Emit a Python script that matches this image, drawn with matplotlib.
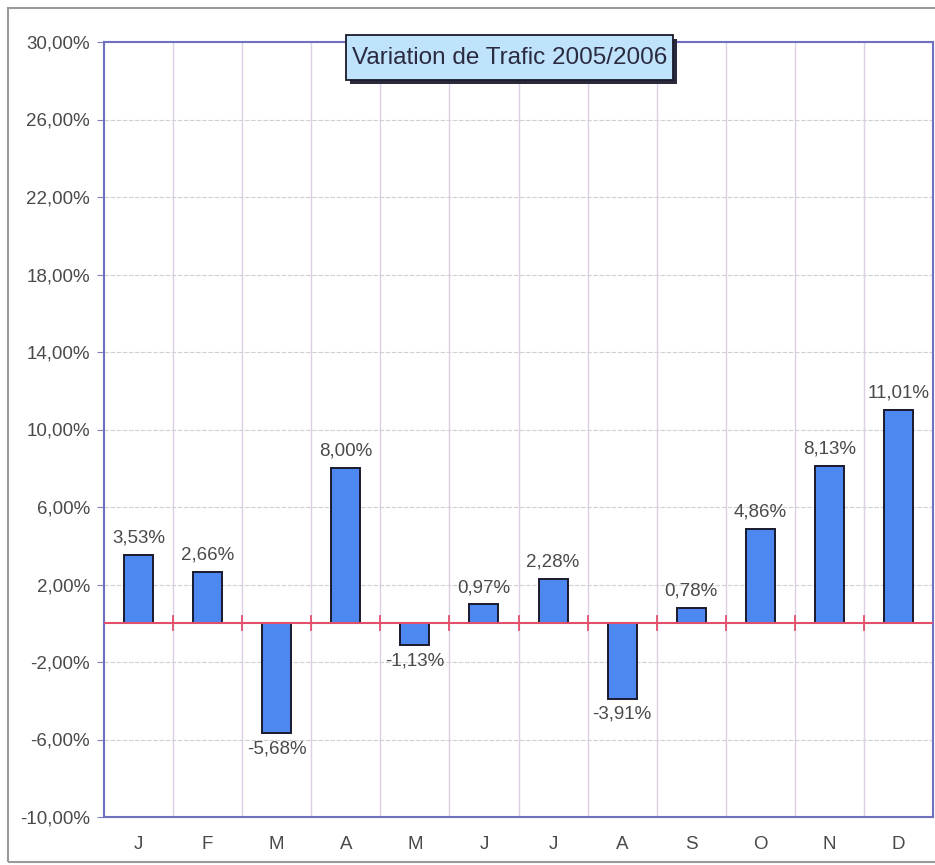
import matplotlib
matplotlib.use("Agg")
import matplotlib.pyplot as plt
from matplotlib.patches import Rectangle

months = ["J", "F", "M", "A", "M", "J", "J", "A", "S", "O", "N", "D"]
values = [3.53, 2.66, -5.68, 8.00, -1.13, 0.97, 2.28, -3.91, 0.78, 4.86, 8.13, 11.01]
yticks = [-10, -6, -2, 2, 6, 10, 14, 18, 22, 26, 30]
title = "Variation de Trafic 2005/2006"

plt.rcParams['font.family'] = ['Liberation Sans', 'DejaVu Sans']
W, H = 935, 865
fig = plt.figure(figsize=(W/100, H/100), dpi=100)
fig.patch.set_facecolor('white')

# outer frame
fig.patches.append(Rectangle((8/W, 3/H), 1.2, (H-11)/H, transform=fig.transFigure,
                             fill=False, edgecolor='#9a9a9a', linewidth=1.5))

ax = fig.add_axes([104/W, 1-817/H, (933-104)/W, (817-42)/H])
n = len(months)
x = list(range(n))
ax.set_xlim(-0.5, n-0.5)
ax.set_ylim(-10, 30)

# grids
for b in [i + 0.5 for i in range(n-1)]:
    ax.axvline(b, color='#ddd0e6', linewidth=1.0, zorder=0)
for t in yticks:
    ax.axhline(t, color='#d0d0d0', linewidth=0.8, linestyle=(0, (4, 1.5)), zorder=0)

ax.bar(x, values, width=0.42, color='#4d88f0', edgecolor='#1a1a2e', linewidth=1.4, zorder=3)

# zero line with ticks
ax.axhline(0, color='#e0506a', linewidth=1.5, zorder=4)
for b in [i + 0.5 for i in range(n-1)]:
    ax.plot([b, b], [-0.35, 0.35], color='#e0506a', linewidth=1.3, zorder=4)

for xi, v in zip(x, values):
    lab = f"{v:.2f}".replace('.', ',') + "%"
    if v >= 0:
        ax.annotate(lab, (xi, v), xytext=(0, 6), textcoords='offset points',
                    ha='center', va='bottom', fontsize=13.5, color='#4a4a4a')
    else:
        ax.annotate(lab, (xi, v), xytext=(0, -5), textcoords='offset points',
                    ha='center', va='top', fontsize=13.5, color='#4a4a4a')

ax.set_xticks(x)
ax.set_xticklabels(months, fontsize=13.5, color='#4a4a4a')
ax.set_yticks(yticks)
ax.set_yticklabels([f"{t:.2f}".replace('.', ',') + "%" for t in yticks], fontsize=13.5, color='#4a4a4a')
ax.tick_params(axis='x', length=0, pad=14)
ax.tick_params(axis='y', length=5, color='#8080c0', pad=5, direction='out')
for s in ax.spines.values():
    s.set_color('#7070c0')
    s.set_linewidth(1.5)

# title box with shadow
shadow = Rectangle((350/W, 1-84/H), (677-350)/W, (84-39)/H, transform=fig.transFigure,
                   facecolor='#2a2a3a', edgecolor='none', zorder=5)
fig.patches.append(shadow)
box = Rectangle((346/W, 1-80/H), (673-346)/W, (80-35)/H, transform=fig.transFigure,
                facecolor='#bfe3fb', edgecolor='#1a1a2a', linewidth=1.3, zorder=6)
fig.patches.append(box)
fig.text(509.5/W, 1-58/H, title, ha='center', va='center', fontsize=17.5, color='#2a2a40', zorder=7)

fig.savefig('out.png', dpi=100)
